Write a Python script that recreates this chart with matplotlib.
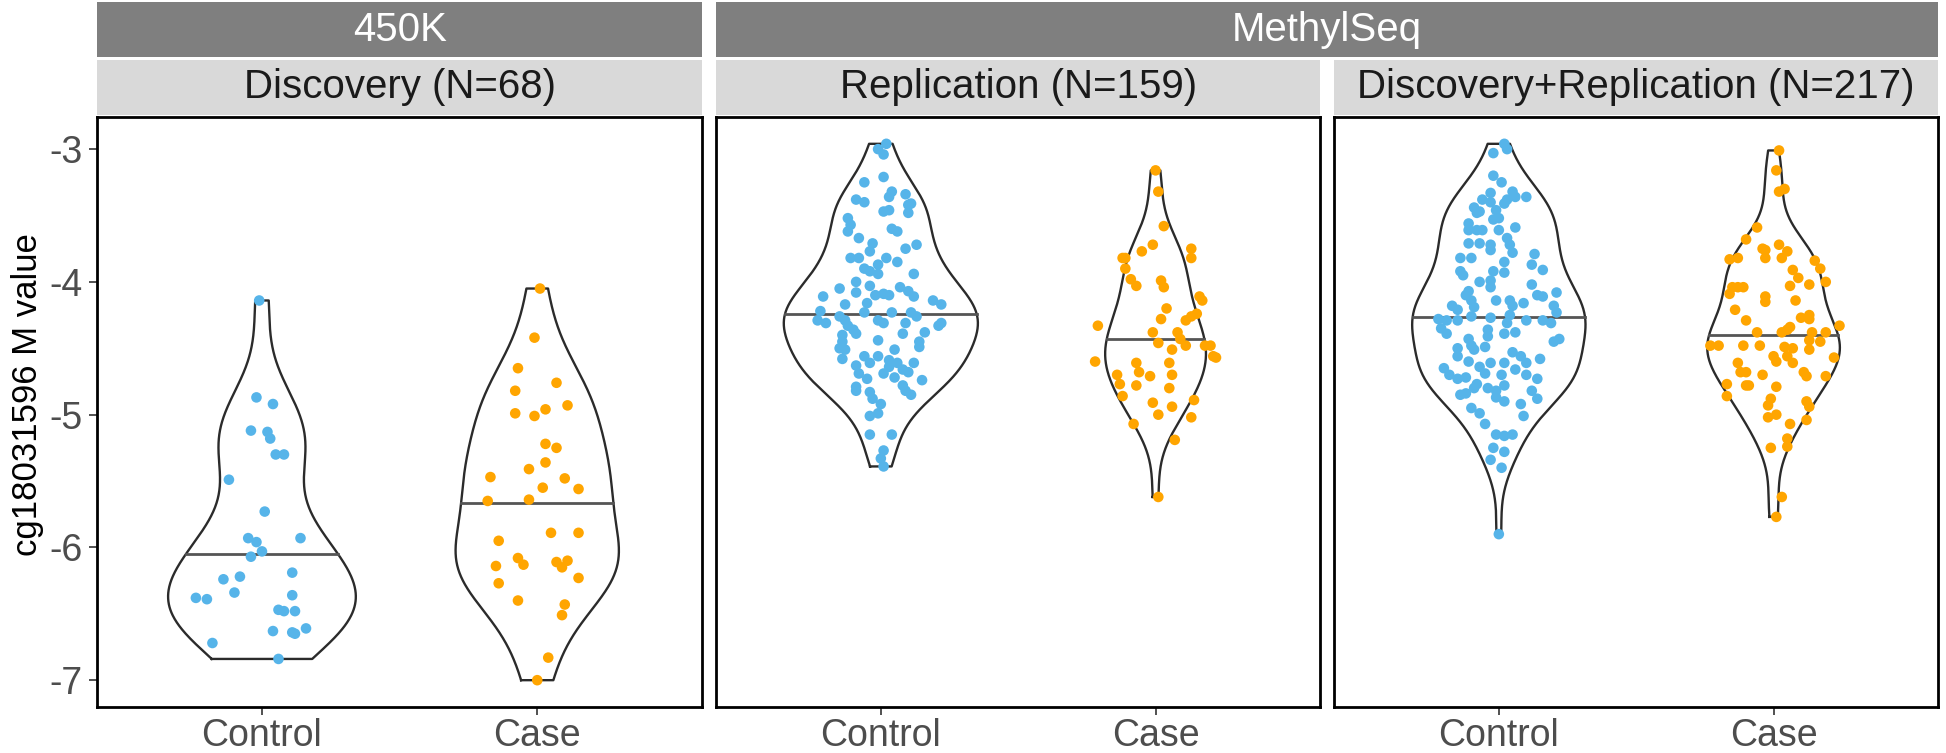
import numpy as np
import matplotlib
matplotlib.use("Agg")
import matplotlib.pyplot as plt
from matplotlib.patches import Rectangle

plt.rcParams['font.family'] = ['Liberation Sans', 'DejaVu Sans']

# ---- data ----
groups = ["Control", "Case"]
facets = ["Discovery (N=68)", "Replication (N=159)", "Discovery+Replication (N=217)"]
platforms = ["450K", "MethylSeq"]
ylabel = "cg18031596 M value"
yticks = [-7, -6, -5, -4, -3]

disc_ctrl = [-4.14, -4.87, -4.92, -5.12, -5.13, -5.18, -5.30, -5.30, -5.49, -5.73,
             -5.93, -5.96, -5.93, -6.03, -6.07, -6.19, -6.22, -6.24, -6.34, -6.36,
             -6.38, -6.39, -6.47, -6.48, -6.48, -6.63, -6.64, -6.65, -6.61, -6.72, -6.84]
disc_ctrl_jit = [-0.01, -0.02, 0.04, -0.04, 0.02, 0.03, 0.05, 0.08, -0.12, 0.01,
                 -0.05, -0.02, 0.14, 0.00, -0.04, 0.11, -0.08, -0.14, -0.10, 0.11,
                 -0.24, -0.20, 0.06, 0.08, 0.12, 0.04, 0.11, 0.12, 0.16, -0.18, 0.06]
disc_case = [-4.05, -4.42, -4.65, -4.76, -4.82, -4.93, -4.96, -4.99, -5.01, -5.22,
             -5.25, -5.36, -5.41, -5.47, -5.48, -5.55, -5.56, -5.65, -5.64, -5.89,
             -5.89, -5.95, -6.08, -6.13, -6.14, -6.11, -6.10, -6.15, -6.23, -6.27,
             -6.40, -6.43, -6.51, -6.83, -7.00]
disc_case_jit = [0.01, -0.01, -0.07, 0.07, -0.08, 0.11, 0.03, -0.08, -0.01, 0.03,
                 0.07, 0.03, -0.03, -0.17, 0.10, 0.02, 0.15, -0.18, -0.03, 0.05,
                 0.15, -0.14, -0.07, -0.05, -0.15, 0.07, 0.11, 0.09, 0.15, -0.14,
                 -0.07, 0.10, 0.09, 0.04, 0.00]

rep_ctrl = [-2.96, -3.00, -3.04, -3.21, -3.25, -3.32, -3.36, -3.34, -3.38, -3.40,
            -3.42, -3.41, -3.48, -3.47, -3.46, -3.52, -3.57, -3.62, -3.60, -3.62,
            -3.67, -3.71, -3.72, -3.75, -3.77, -3.82, -3.82, -3.82, -3.85, -3.90,
            -3.87, -3.92, -3.94, -3.94, -4.00, -4.05, -4.03, -4.08, -4.04, -4.07,
            -4.11, -4.11, -4.10, -4.09, -4.10, -4.14, -4.17, -4.17, -4.16, -4.22,
            -4.23, -4.23, -4.23, -4.26, -4.29, -4.31, -4.26, -4.29, -4.33, -4.36,
            -4.39, -4.29, -4.31, -4.31, -4.31, -4.33, -4.39, -4.38, -4.40, -4.45,
            -4.45, -4.49, -4.44, -4.50, -4.51, -4.58, -4.51, -4.56, -4.56, -4.61,
            -4.63, -4.59, -4.61, -4.61, -4.69, -4.69, -4.64, -4.66, -4.68, -4.73,
            -4.72, -4.74, -4.79, -4.82, -4.78, -4.82, -4.85, -4.83, -4.88, -4.92,
            -4.99, -5.01, -5.15, -5.15, -5.27, -5.33, -5.39]
rep_ctrl_jit = [0.02, -0.01, 0.01, 0.01, -0.06, 0.04, 0.03, 0.09, -0.09, -0.06,
                0.10, 0.11, 0.10, 0.01, 0.03, -0.12, -0.11, -0.12, 0.04, 0.06,
                -0.08, -0.03, 0.13, 0.09, -0.04, -0.11, -0.08, 0.02, 0.06, -0.06,
                -0.01, -0.04, -0.01, 0.12, -0.09, -0.15, -0.04, -0.09, 0.07, 0.10,
                0.12, -0.21, -0.02, 0.01, 0.03, 0.19, 0.22, -0.13, -0.05, -0.22,
                -0.06, 0.04, 0.11, 0.13, -0.23, -0.20, -0.15, -0.13, -0.12, -0.10,
                -0.09, -0.01, 0.01, 0.09, 0.22, 0.21, 0.08, 0.16, -0.14, -0.14,
                0.14, 0.14, -0.01, -0.15, -0.13, -0.14, 0.05, -0.06, -0.01, -0.04,
                -0.09, 0.03, 0.06, 0.12, -0.08, 0.01, 0.03, 0.08, 0.10, -0.05,
                0.05, 0.15, -0.09, -0.09, 0.08, 0.09, 0.11, -0.04, -0.03, 0.00,
                -0.01, -0.04, -0.04, 0.04, 0.01, 0.00, 0.01]
rep_case = [-3.16, -3.32, -3.58, -3.72, -3.77, -3.75, -3.82, -3.82, -3.82, -3.90,
            -3.98, -4.03, -3.99, -4.04, -4.11, -4.14, -4.20, -4.28, -4.24, -4.26,
            -4.29, -4.33, -4.38, -4.38, -4.43, -4.46, -4.48, -4.51, -4.48, -4.48,
            -4.56, -4.57, -4.60, -4.61, -4.61, -4.68, -4.70, -4.77, -4.71, -4.70,
            -4.78, -4.80, -4.86, -4.89, -4.91, -4.94, -5.00, -5.02, -5.07, -5.19,
            -5.62]
rep_case_jit = [0.00, 0.01, 0.03, -0.01, -0.05, 0.13, 0.13, -0.12, -0.11, -0.11,
                -0.09, -0.07, 0.02, 0.03, 0.16, 0.17, 0.04, 0.02, 0.15, 0.13,
                0.11, -0.21, -0.01, 0.08, 0.09, 0.01, 0.11, 0.06, 0.18, 0.20,
                0.21, 0.22, -0.22, -0.07, 0.05, -0.06, -0.14, -0.13, -0.02, 0.06,
                -0.07, 0.05, -0.12, 0.14, -0.01, 0.06, 0.01, 0.13, -0.08, 0.07,
                0.01]

comb_ctrl = [-2.96, -3.00, -3.03, -3.20, -3.25, -3.32, -3.36, -3.36, -3.33, -3.38,
             -3.40, -3.38, -3.41, -3.44, -3.48, -3.47, -3.46, -3.53, -3.52, -3.56,
             -3.61, -3.61, -3.61, -3.61, -3.59, -3.67, -3.72, -3.71, -3.71, -3.72,
             -3.76, -3.78, -3.82, -3.82, -3.79, -3.87, -3.91, -3.85, -3.92, -3.95,
             -3.92, -3.93, -4.00, -3.99, -4.04, -4.02, -4.10, -4.11, -4.08, -4.07,
             -4.10, -4.14, -4.14, -4.14, -4.16, -4.18, -4.18, -4.21, -4.19, -4.18,
             -4.23, -4.28, -4.29, -4.29, -4.26, -4.27, -4.25, -4.31, -4.29, -4.29,
             -4.31, -4.35, -4.39, -4.36, -4.41, -4.39, -4.38, -4.45, -4.43, -4.43,
             -4.48, -4.51, -4.49, -4.50, -4.56, -4.53, -4.56, -4.58, -4.60, -4.64,
             -4.61, -4.61, -4.61, -4.66, -4.65, -4.70, -4.73, -4.72, -4.69, -4.70,
             -4.70, -4.73, -4.78, -4.77, -4.80, -4.85, -4.84, -4.80, -4.82, -4.87,
             -4.90, -4.82, -4.88, -4.92, -4.95, -4.99, -5.01, -5.07, -5.15, -5.16,
             -5.15, -5.25, -5.28, -5.34, -5.40, -5.90]
comb_ctrl_jit = [0.02, 0.03, -0.02, -0.02, 0.01, 0.05, 0.06, 0.10, -0.03, -0.06,
                 -0.03, 0.03, 0.02, -0.09, -0.08, -0.07, -0.01, -0.02, 0.00, -0.11,
                 -0.11, -0.08, -0.06, 0.00, 0.06, 0.03, 0.04, -0.11, -0.07, -0.03,
                 -0.03, 0.05, -0.14, -0.10, 0.13, 0.12, 0.16, 0.02, -0.14, -0.13,
                 -0.02, 0.02, -0.07, -0.03, -0.03, 0.12, 0.14, 0.16, 0.21, -0.11,
                 -0.12, -0.10, -0.01, 0.04, 0.09, 0.05, -0.17, -0.15, -0.09, 0.20,
                 0.21, -0.22, -0.19, -0.15, -0.10, -0.03, 0.04, 0.03, 0.10, 0.16,
                 0.19, -0.21, -0.19, -0.04, -0.04, 0.02, 0.06, 0.20, 0.22, -0.11,
                 -0.10, -0.09, -0.05, -0.15, -0.15, 0.05, 0.08, 0.15, -0.11, -0.07,
                 -0.03, 0.02, 0.10, 0.06, -0.20, -0.18, -0.15, -0.12, -0.05, 0.01,
                 0.10, 0.14, 0.02, -0.08, -0.09, -0.14, -0.12, -0.04, -0.01, -0.01,
                 0.02, 0.12, 0.14, 0.08, -0.10, -0.07, 0.09, -0.05, -0.01, 0.02,
                 0.05, -0.02, 0.02, -0.03, 0.01, 0.00]
comb_case = [-3.01, -3.16, -3.32, -3.30, -3.59, -3.68, -3.75, -3.82, -3.76, -3.72,
             -3.77, -3.82, -3.83, -3.82, -3.84, -3.90, -3.91, -3.97, -4.03, -4.02,
             -4.00, -4.04, -4.04, -4.04, -4.09, -4.11, -4.15, -4.14, -4.21, -4.29,
             -4.27, -4.25, -4.28, -4.33, -4.38, -4.38, -4.36, -4.34, -4.38, -4.38,
             -4.44, -4.45, -4.48, -4.48, -4.48, -4.48, -4.49, -4.50, -4.51, -4.56,
             -4.60, -4.56, -4.61, -4.57, -4.61, -4.68, -4.68, -4.70, -4.68, -4.71,
             -4.71, -4.77, -4.78, -4.78, -4.79, -4.86, -4.88, -4.93, -4.90, -4.94,
             -5.02, -5.00, -5.04, -5.07, -5.18, -5.25, -5.24, -5.62, -5.77]
comb_case_jit = [0.02, 0.01, 0.02, 0.04, -0.06, -0.10, -0.04, -0.03, -0.03, 0.02,
                 0.05, 0.03, -0.16, -0.13, 0.15, 0.17, 0.07, 0.09, 0.06, 0.13,
                 0.19, -0.15, -0.13, -0.11, -0.16, -0.03, -0.03, 0.08, -0.14, -0.10,
                 0.10, 0.13, 0.13, 0.24, -0.06, 0.03, 0.05, 0.06, 0.14, 0.19,
                 0.13, 0.17, -0.23, -0.20, -0.11, -0.05, 0.04, 0.07, 0.13, 0.00,
                 0.01, 0.05, 0.07, 0.22, -0.13, -0.12, -0.10, -0.04, 0.11, 0.12,
                 0.19, -0.17, -0.10, -0.09, 0.01, -0.17, -0.01, -0.02, 0.12, 0.13,
                 -0.02, 0.01, 0.12, 0.06, 0.05, -0.01, 0.05, 0.03, 0.01]

colors = ["#56B4E9", "#FFA500"]

panels = [
    [(disc_ctrl, disc_ctrl_jit), (disc_case, disc_case_jit)],
    [(rep_ctrl, rep_ctrl_jit), (rep_case, rep_case_jit)],
    [(comb_ctrl, comb_ctrl_jit), (comb_case, comb_case_jit)],
]


def bw_nrd0(x):
    sd = np.std(x, ddof=1)
    q75, q25 = np.percentile(x, [75, 25])
    lo = min(sd, (q75 - q25) / 1.34)
    return 0.9 * lo * len(x) ** -0.2


def kde(x):
    x = np.asarray(x, dtype=float)
    bw = bw_nrd0(x)
    grid = np.linspace(x.min(), x.max(), 512)
    z = (grid[:, None] - x[None, :]) / bw
    d = np.exp(-0.5 * z ** 2).sum(axis=1) / (len(x) * bw * np.sqrt(2 * np.pi))
    return grid, d


# ---- layout (pixels of the 1946x753 figure) ----
W, H = 1946, 753
fig = plt.figure(figsize=(W / 100, H / 100), dpi=100)


def fx(px):
    return px / W


def fy(py):
    return 1 - py / H


panel_px = [(96.8, 702.4), (716.0, 1320.4), (1334.0, 1938.4)]
top_px, bot_px = 117, 707

all_vals = np.concatenate([np.asarray(v) for p in panels for v, _ in p])
lo, hi = all_vals.min(), all_vals.max()
pad = 0.05 * (hi - lo)
ylim = (lo - pad, hi + pad)
half = 0.385  # violin half-width of the widest violin in a panel

for i, (p, (x0, x1)) in enumerate(zip(panels, panel_px)):
    ax = fig.add_axes([fx(x0), fy(bot_px), fx(x1 - x0), fy(top_px) - fy(bot_px)])
    dens = [kde(v) for v, _ in p]
    ns = [len(v) for v, _ in p]
    dmax = max(d.max() for _, d in dens)
    nmax = max(ns)
    for k, ((vals, jit), (grid, d)) in enumerate(zip(p, dens)):
        xc = k + 1
        w = d / dmax * ns[k] / nmax * half
        ax.fill_betweenx(grid, xc - w, xc + w, facecolor="white", edgecolor="none", zorder=1)
        xs = np.concatenate([xc - w, (xc + w)[::-1], [xc - w[0]]])
        ys = np.concatenate([grid, grid[::-1], [grid[0]]])
        ax.plot(xs, ys, color="#2B2B2B", lw=1.7, zorder=2)
        cdf = np.cumsum(d) / d.sum()
        ym = np.interp(0.5, cdf, grid)
        wm = np.interp(ym, grid, w)
        ax.plot([xc - wm, xc + wm], [ym, ym], color="#555555", lw=2.0, zorder=2)
        ax.scatter(xc + np.asarray(jit), vals, s=58, color=colors[k],
                   edgecolors="none", zorder=3)
    ax.set_xlim(0.4, 2.6)
    ax.set_ylim(ylim)
    ax.set_xticks([1, 2])
    ax.set_xticklabels(groups, fontsize=27, color="#4D4D4D")
    ax.tick_params(axis="x", length=6, width=1.2, color="#333333", pad=2)
    if i == 0:
        ax.set_yticks(yticks)
        ax.set_yticklabels([str(t) for t in yticks], fontsize=27, color="#4D4D4D")
        ax.tick_params(axis="y", length=6, width=1.2, color="#333333", pad=4)
        ax.set_ylabel(ylabel, fontsize=25, color="black")
        ax.yaxis.set_label_coords(-0.088, 0.53)
    else:
        ax.set_yticks([])
    for s in ax.spines.values():
        s.set_color("black")
        s.set_linewidth(2.0)

    # lower strip
    fig.add_artist(Rectangle((fx(x0), fy(115)), fx(x1 - x0), fy(60) - fy(115),
                             transform=fig.transFigure, facecolor="#D9D9D9",
                             edgecolor="none"))
    fig.text(fx((x0 + x1) / 2), fy(87.5), facets[i], fontsize=29,
             ha="center", va="center", color="#1A1A1A")

# upper strips
for name, (x0, x1) in zip(platforms, [(96.8, 702.4), (716.0, 1938.4)]):
    fig.add_artist(Rectangle((fx(x0), fy(57)), fx(x1 - x0), fy(2) - fy(57),
                             transform=fig.transFigure, facecolor="#7F7F7F",
                             edgecolor="none"))
    fig.text(fx((x0 + x1) / 2), fy(30), name, fontsize=29,
             ha="center", va="center", color="white")

fig.savefig("out.png", dpi=100)
